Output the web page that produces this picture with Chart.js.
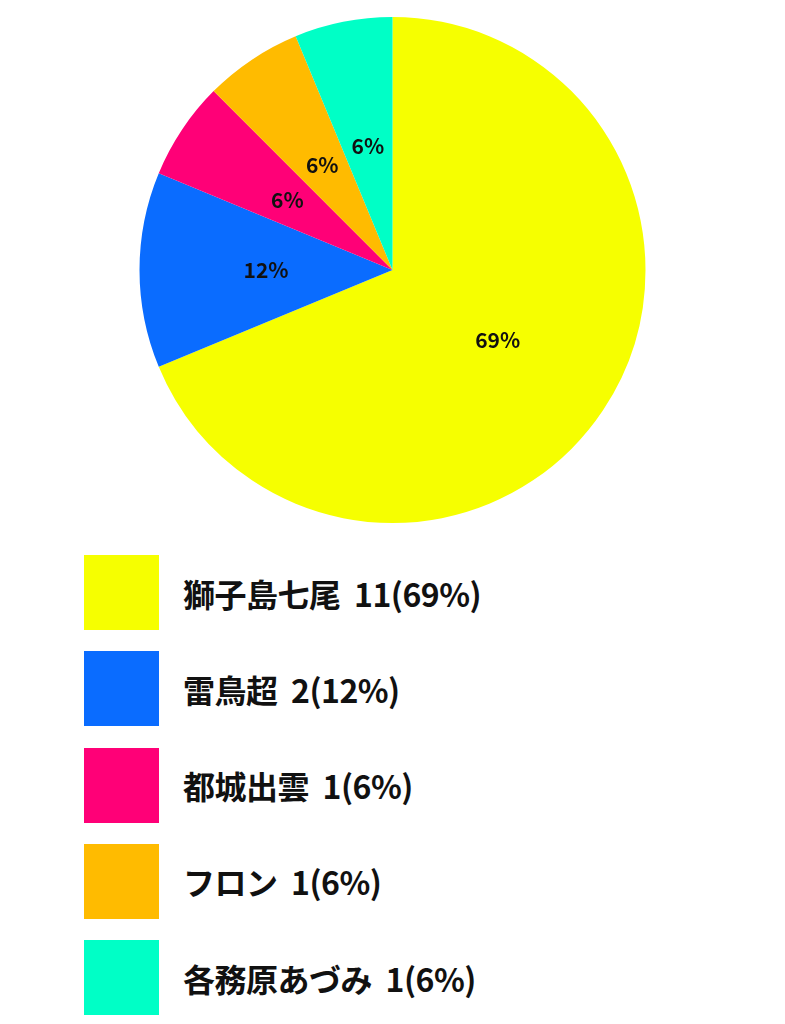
<!DOCTYPE html>
<html>
<head>
<meta charset="utf-8">
<script src="https://cdn.jsdelivr.net/npm/chart.js@4.4.1/dist/chart.umd.min.js"></script>
<style>
  html, body { margin: 0; padding: 0; background: #fff; }
  #wrap { position: relative; width: 785px; height: 1024px; }
  #pie-box { position: absolute; left: 0; top: 0; width: 785px; height: 540px; }
  #legend { position: absolute; left: 84px; top: 555px; }
  .row { display: flex; align-items: center; height: 75px; margin-bottom: 21.25px; }
  .box { width: 75px; height: 75px; flex: none; }
  .txt { margin-left: 24px; font-family: "Noto Sans CJK JP", sans-serif; font-weight: bold;
         font-size: 32px; color: #111; white-space: pre; line-height: 1; letter-spacing: -0.5px; }
</style>
</head>
<body>
<div id="wrap">
  <div id="pie-box"><canvas id="chart"></canvas></div>
  <div id="legend"></div>
</div>
<script>
// データ
const names = ['獅子島七尾', '雷鳥超', '都城出雲', 'フロン', '各務原あづみ'];
const counts = [11, 2, 1, 1, 1];
const percentLabels = ['69%', '12%', '6%', '6%', '6%'];
const colors = ['#f6ff00', '#0a6cff', '#ff0077', '#ffbb00', '#00ffc6'];

// 円グラフの中の % ラベル
const sliceLabels = {
  id: 'sliceLabels',
  afterDatasetsDraw(chart) {
    const ctx = chart.ctx;
    const meta = chart.getDatasetMeta(0);
    ctx.save();
    ctx.font = 'bold 21px "Noto Sans CJK JP", sans-serif';
    ctx.fillStyle = '#111';
    ctx.textAlign = 'center';
    ctx.textBaseline = 'middle';
    meta.data.forEach((arc, i) => {
      const p = arc.tooltipPosition();
      ctx.fillText(percentLabels[i], p.x, p.y);
    });
    ctx.restore();
  }
};

const chart = new Chart(document.querySelector('#chart'), {
  type: 'pie',
  data: {
    labels: names,
    datasets: [{
      data: counts,
      backgroundColor: colors,
      borderWidth: 0
    }]
  },
  options: {
    responsive: true,
    maintainAspectRatio: false,
    animation: false,
    layout: { padding: { top: 17, bottom: 17 } },
    plugins: {
      legend: { display: false },
      tooltip: { enabled: false }
    }
  },
  plugins: [sliceLabels]
});

// 凡例
document.querySelector('#legend').innerHTML = names.map((n, i) => `
  <div class="row">
    <div class="box" style="background:${colors[i]}"></div>
    <div class="txt">${n}  ${counts[i]}(${percentLabels[i]})</div>
  </div>`).join('');
</script>
</body>
</html>
